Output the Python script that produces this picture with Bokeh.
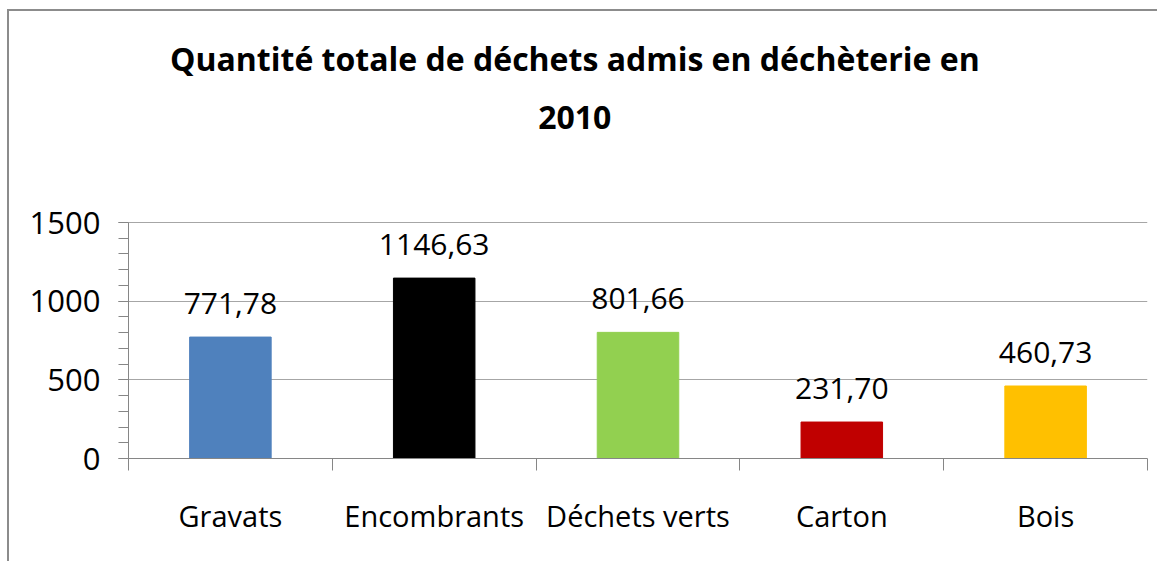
from bokeh.plotting import figure
from bokeh.models import ColumnDataSource, FixedTicker, LabelSet, Label
from bokeh.core.properties import value
from bokeh.embed import file_html
from bokeh.resources import INLINE

categories = ["Gravats", "Encombrants", "Déchets verts", "Carton", "Bois"]
quantities = [771.78, 1146.63, 801.66, 231.70, 460.73]
colors = ["#4F81BD", "#000000", "#92D050", "#C00000", "#FFC000"]
y_ticks = [0, 500, 1000, 1500]
title_lines = ["Quantité totale de déchets admis en déchèterie en", "2010"]

FONT = "Open Sans"

# frame layout: value axis 0..1500 spans 236 px; the frame continues up to the canvas top
PX_AXIS = 236
PX_FRAME = 447
y_max = y_ticks[-1]
y_end = y_max * PX_FRAME / PX_AXIS

def px_to_y(px_from_bottom):
    return px_from_bottom * y_max / PX_AXIS

xs = [i + 0.5 for i in range(len(categories))]
labels = [f"{v:.2f}".replace(".", ",") for v in quantities]
src = ColumnDataSource(dict(x=xs, top=quantities, color=colors, label=labels))

p = figure(width=1150, height=552, x_range=(0, len(categories)), y_range=(0, y_end),
           output_backend="svg", toolbar_location=None,
           min_border_left=119, min_border_right=12, min_border_top=0, min_border_bottom=105)
p.styles = {"border-left": "2px solid #8c8c8c", "border-top": "2px solid #8c8c8c",
            "margin-top": "9px", "margin-left": "7px"}
p.outline_line_color = None
p.background_fill_color = "white"

p.vbar(x="x", top="top", width=0.4, bottom=0, color="color", source=src)

p.add_layout(LabelSet(x="x", y="top", text="label", source=src, text_align="center",
                      text_baseline="alphabetic", y_offset=23, text_font=value(FONT),
                      text_font_size="30px", text_color="black"))

# axes
p.xaxis.ticker = FixedTicker(ticks=xs, minor_ticks=list(range(len(categories) + 1)))
p.xaxis.major_label_overrides = {x: c for x, c in zip(xs, categories)}
p.xaxis.major_tick_line_color = None
p.xaxis.minor_tick_out = 12
p.xaxis.minor_tick_in = 0
p.xaxis.minor_tick_line_color = "#868686"
p.xaxis.axis_line_color = "#868686"
p.xaxis.major_label_standoff = 25
p.xaxis.major_label_text_font = FONT
p.xaxis.major_label_text_font_size = "29px"
p.xaxis.major_label_text_color = "black"

p.yaxis.bounds = (0, y_max)
p.yaxis.ticker = FixedTicker(ticks=y_ticks, minor_ticks=list(range(0, y_max + 1, 100)))
p.yaxis.major_tick_out = 10
p.yaxis.major_tick_in = 0
p.yaxis.minor_tick_out = 10
p.yaxis.minor_tick_in = 0
p.yaxis.major_tick_line_color = "#868686"
p.yaxis.minor_tick_line_color = "#868686"
p.yaxis.axis_line_color = "#868686"
p.yaxis.major_label_standoff = 18
p.yaxis.major_label_text_font = FONT
p.yaxis.major_label_text_font_size = "31px"
p.yaxis.major_label_text_color = "black"

p.xgrid.grid_line_color = None
p.ygrid.grid_line_color = "#a6a6a6"
p.ygrid.ticker = FixedTicker(ticks=y_ticks)

# two-line title (text positions only), centred at 2.19 category widths
for txt, px in zip(title_lines, [400, 341]):
    p.add_layout(Label(x=2.19, y=px_to_y(px), text=txt, text_align="center",
                       text_baseline="middle", text_font=FONT, text_font_style="bold",
                       text_font_size="32px", text_color="black"))

open("out.html", "w").write(file_html(p, INLINE))
